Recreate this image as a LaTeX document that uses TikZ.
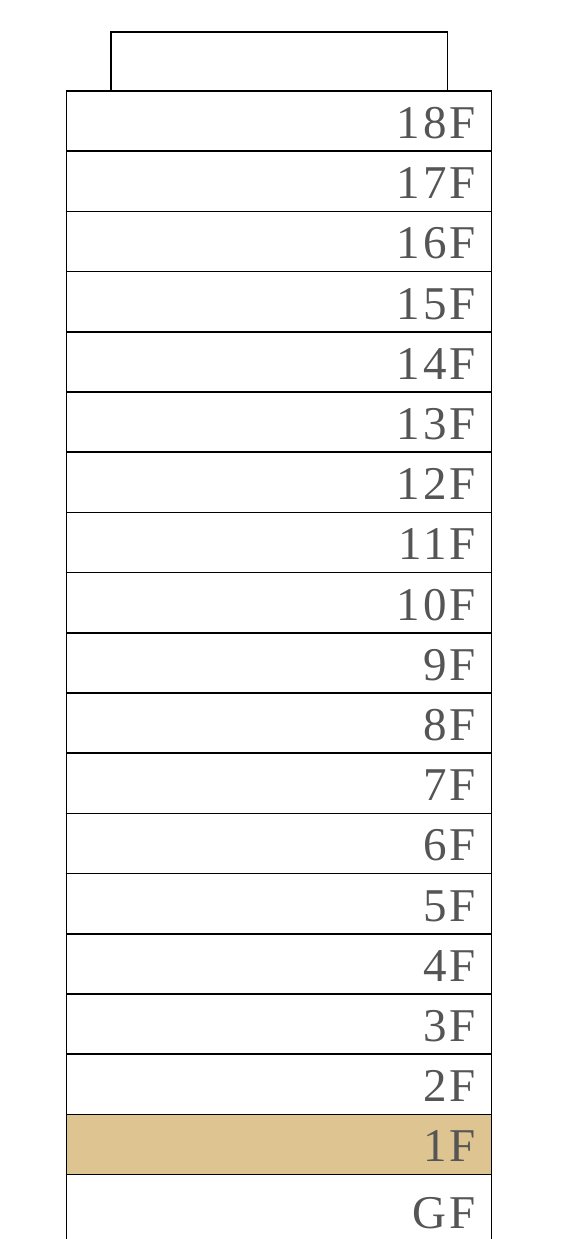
\documentclass[tikz,border=0pt]{standalone}
\usepackage{fontspec}
\usetikzlibrary{positioning}
\newfontfamily\floorfont[LetterSpace=6]{Liberation Serif}
\definecolor{lobbyfill}{HTML}{DDC491}
\definecolor{floortext}{HTML}{555555}

\begin{document}
\begin{tikzpicture}[
		x=1pt, y=1pt,
		node distance=0pt,
		floor/.style={draw, line width=1.5pt, outer sep=0pt, inner xsep=16pt, inner ysep=0pt,
			minimum width=425pt, minimum height=60.2pt, text width=393pt, align=right,
			text height=35pt, text depth=0pt, font=\floorfont\fontsize{47}{47}\selectfont, text=floortext},
		roof/.style={draw, line width=1.5pt, outer sep=0pt, minimum width=336.6pt, minimum height=59pt}
	]
		\useasboundingbox (0,0) rectangle (562,1239);
		\node[floor, anchor=north] (f18) at (279.2,1148) {18F};
		\node[roof, above=of f18] (roof) {};
		\node[floor, below=of f18] (f17) {17F};
		\node[floor, below=of f17] (f16) {16F};
		\node[floor, below=of f16] (f15) {15F};
		\node[floor, below=of f15] (f14) {14F};
		\node[floor, below=of f14] (f13) {13F};
		\node[floor, below=of f13] (f12) {12F};
		\node[floor, below=of f12] (f11) {11F};
		\node[floor, below=of f11] (f10) {10F};
		\node[floor, below=of f10] (f9) {9F};
		\node[floor, below=of f9] (f8) {8F};
		\node[floor, below=of f8] (f7) {7F};
		\node[floor, below=of f7] (f6) {6F};
		\node[floor, below=of f6] (f5) {5F};
		\node[floor, below=of f5] (f4) {4F};
		\node[floor, below=of f4] (f3) {3F};
		\node[floor, below=of f3] (f2) {2F};
		\node[floor, fill=lobbyfill, below=of f2] (f1) {1F};
		\node[floor, minimum height=72pt, below=of f1] (gf) {GF};
	\end{tikzpicture}
\end{document}
